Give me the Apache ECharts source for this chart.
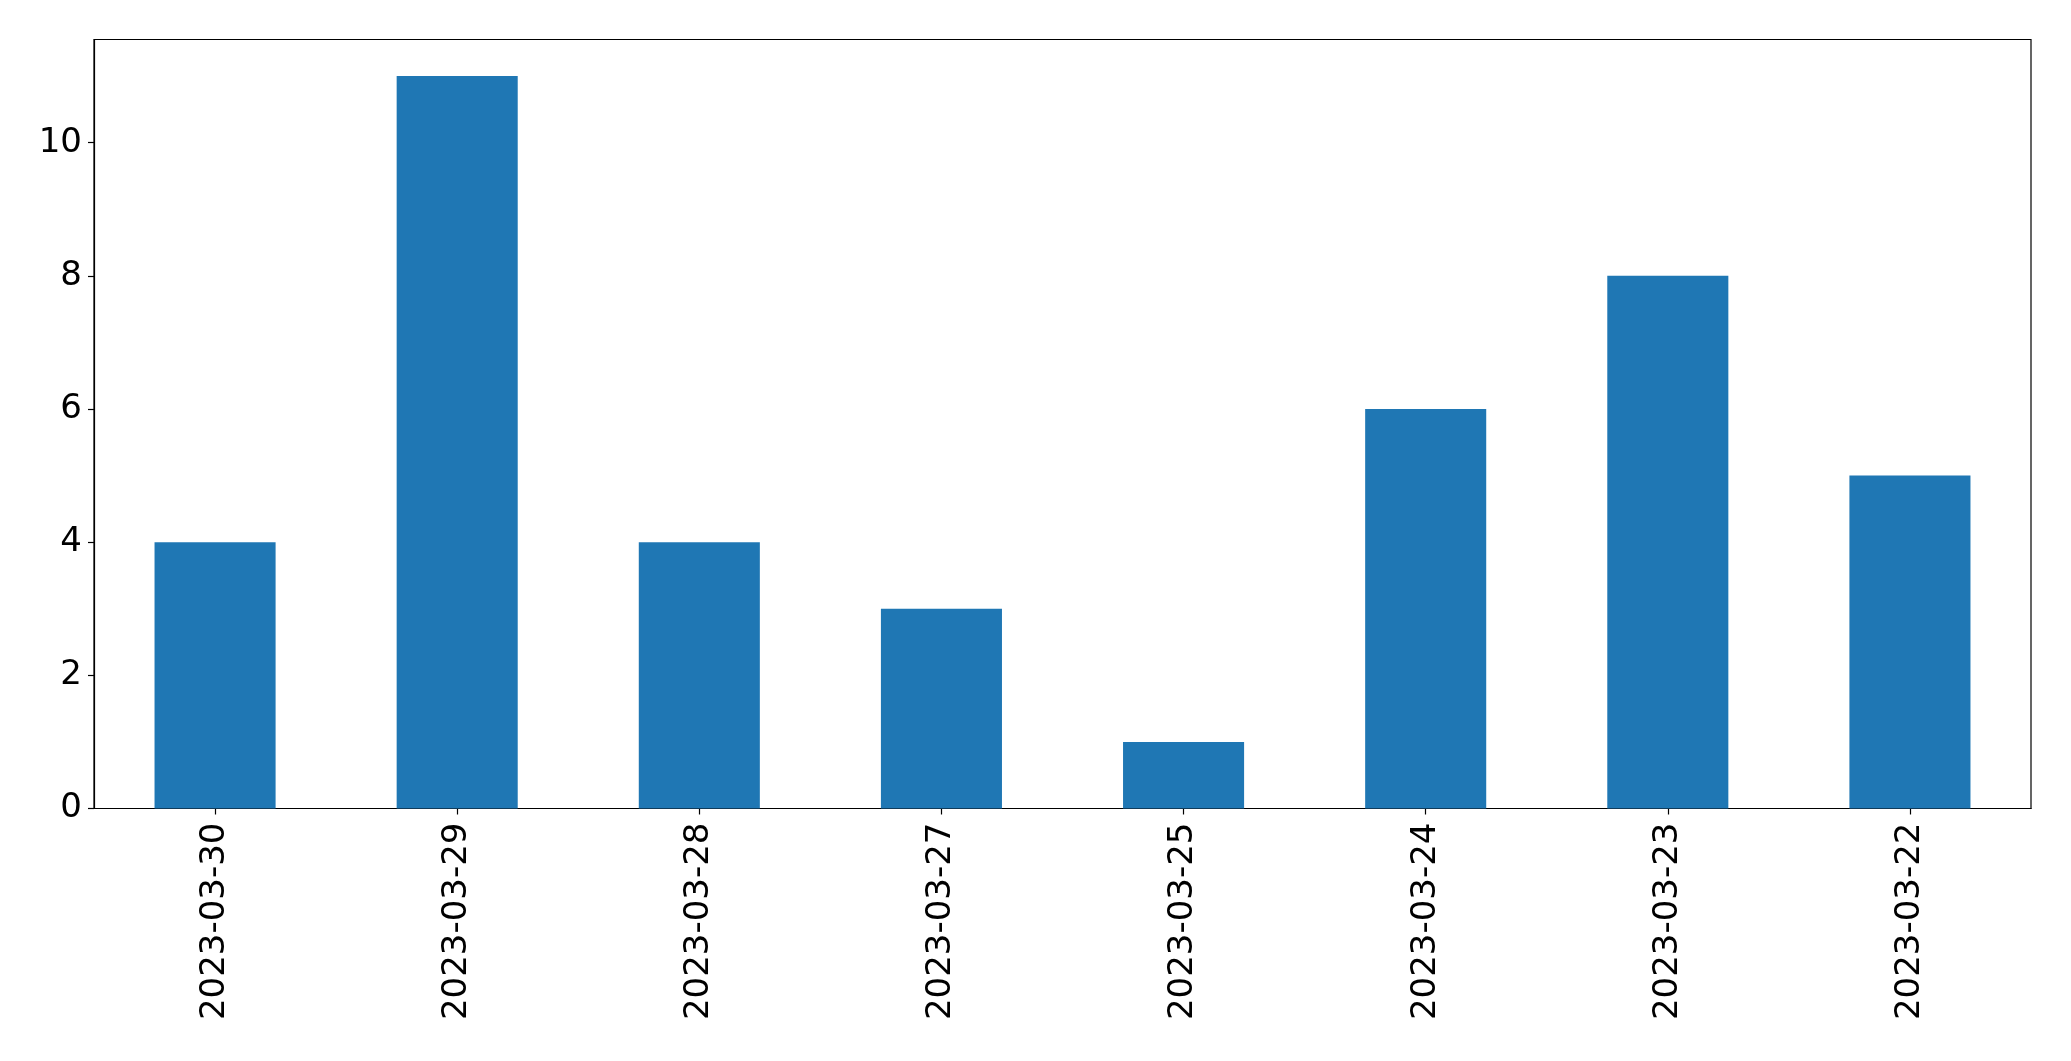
<!DOCTYPE html>
<html>
<head>
<meta charset="utf-8">
<script src="https://cdn.jsdelivr.net/npm/echarts@6/dist/echarts.min.js"></script>
<style>
html,body{margin:0;padding:0;background:#fff;}
#c{width:2071px;height:1061px;}
</style>
</head>
<body>
<div id="c"></div>
<script>
const categories = ['2023-03-30','2023-03-29','2023-03-28','2023-03-27','2023-03-25','2023-03-24','2023-03-23','2023-03-22'];
const values = [4, 11, 4, 3, 1, 6, 8, 5];
const yTicks = [0, 2, 4, 6, 8, 10];
const yMax = 11.55;

const chart = echarts.init(document.getElementById('c'), null, {renderer: 'canvas'});
const font = 'DejaVu Sans';
chart.setOption({
  animation: false,
  backgroundColor: '#ffffff',
  grid: {
    left: 94, right: 40, top: 39.5, bottom: 252.5,
    show: true, borderColor: '#000', borderWidth: 1.2, backgroundColor: 'transparent'
  },
  xAxis: {
    type: 'category',
    data: categories,
    boundaryGap: true,
    axisLine: {show: true, lineStyle: {color: '#000', width: 1.2}},
    axisTick: {show: true, alignWithLabel: true, inside: false, length: 6, lineStyle: {color: '#000', width: 1.2}},
    axisLabel: {rotate: 90, fontFamily: font, fontSize: 34, color: '#000', margin: 14, interval: 0}
  },
  yAxis: {
    type: 'value',
    min: 0, max: yMax,
    splitLine: {show: false},
    axisLine: {show: true, lineStyle: {color: '#000', width: 1.2}},
    axisTick: {show: true, inside: false, length: 6, customValues: yTicks, lineStyle: {color: '#000', width: 1.2}},
    axisLabel: {fontFamily: font, fontSize: 34, color: '#000', margin: 12, customValues: yTicks}
  },
  series: [{
    type: 'bar',
    data: values,
    barWidth: '50%',
    itemStyle: {color: '#1f77b4'}
  }]
});
</script>
</body>
</html>
